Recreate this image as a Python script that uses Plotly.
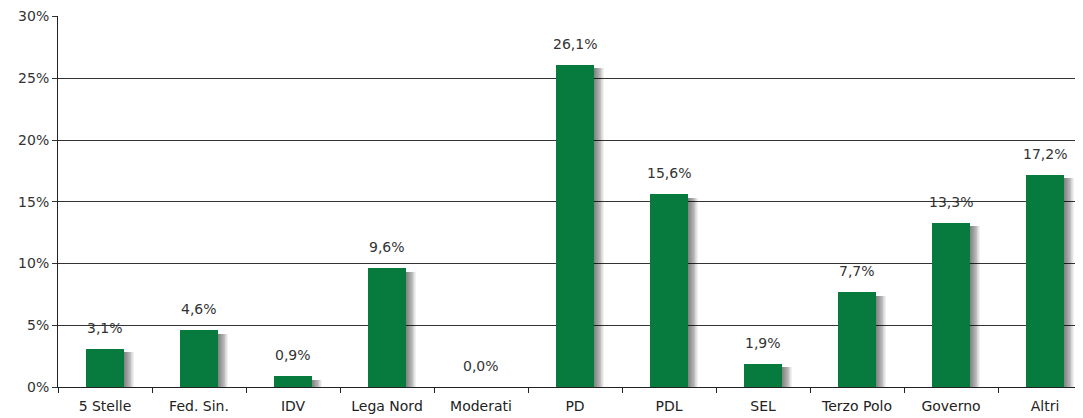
import plotly.graph_objects as go

categories = ["5 Stelle", "Fed. Sin.", "IDV", "Lega Nord", "Moderati", "PD", "PDL", "SEL", "Terzo Polo", "Governo", "Altri"]
values = [3.1, 4.6, 0.9, 9.6, 0.0, 26.1, 15.6, 1.9, 7.7, 13.3, 17.2]
y_ticks = [0, 5, 10, 15, 20, 25, 30]
y_tick_labels = ["0%", "5%", "10%", "15%", "20%", "25%", "30%"]

labels = [f"{v:.1f}".replace(".", ",") + "%" for v in values]

FONT = "DejaVu Sans, Verdana, sans-serif"
fig = go.Figure()
BW = 0.41
# soft shadow layers to the right of each bar
for k in range(11):
    d = 0.01 + k * 0.0095
    fig.add_trace(go.Bar(
        x=categories, y=[max(v - 0.3, 0) for v in values],
        width=BW, offset=-BW / 2 + d,
        marker=dict(color="rgba(0,0,0,0.055)", line=dict(width=0)),
        hoverinfo="skip", showlegend=False,
    ))
fig.add_trace(go.Bar(
    x=categories, y=values, width=BW, offset=-BW / 2,
    marker=dict(color="#077b3e", line=dict(width=0)),
    showlegend=False,
))

for c, v, t in zip(categories, values, labels):
    fig.add_annotation(x=c, y=v, text=t, showarrow=False, yanchor="bottom", yshift=11,
                       font=dict(family=FONT, size=14, color="#333333"))

fig.update_layout(
    width=1083, height=418,
    margin=dict(l=50, r=8, t=8, b=39),
    paper_bgcolor="white", plot_bgcolor="white",
    barmode="overlay", bargap=0,
    font=dict(family=FONT, size=14, color="#222222"),
    xaxis=dict(
        range=[-0.5, 10.404], showgrid=False, showline=True, linecolor="#222222", linewidth=1,
        ticks="outside", tickson="boundaries", ticklen=5, tickcolor="#222222",
        ticklabelstandoff=6, automargin=False,
        tickfont=dict(family=FONT, size=14, color="#222222"),
    ),
    yaxis=dict(
        range=[0, 30.04], tickvals=y_ticks, ticktext=y_tick_labels,
        showgrid=True, gridcolor="#333333", gridwidth=1,
        showline=True, linecolor="#222222", linewidth=1,
        ticks="outside", ticklen=5, tickcolor="#333333", automargin=False,
        tickfont=dict(family=FONT, size=14, color="#333333"), zeroline=False,
    ),
)

fig.write_html("out.html")
